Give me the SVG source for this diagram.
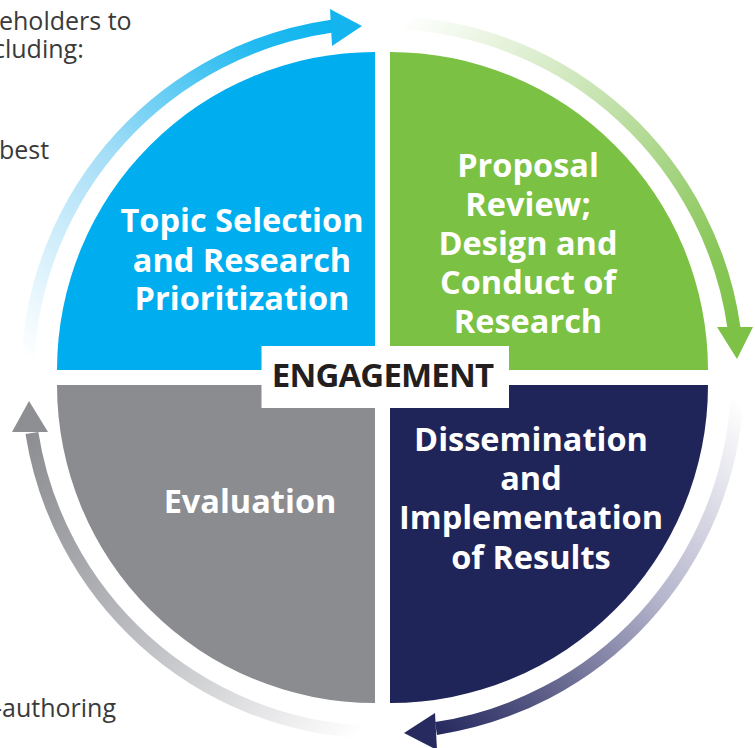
<svg xmlns="http://www.w3.org/2000/svg" width="755" height="748" viewBox="0 0 755 748">
<defs>
<style>
.qt{font-family:"Open Sans","Liberation Sans",sans-serif;font-weight:700;font-size:32.5px;fill:#ffffff;text-anchor:middle}
.side{font-family:"Open Sans","Liberation Sans",sans-serif;font-size:25px;fill:#3a3a3a}
.eng{font-family:"Open Sans","Liberation Sans",sans-serif;font-weight:700;font-size:33px;letter-spacing:-0.85px;fill:#231f20;text-anchor:middle}
.shaft{fill:none;stroke-width:13}
</style>
<linearGradient id="gBlue" gradientUnits="userSpaceOnUse" x1="28" y1="359" x2="332" y2="26">
<stop offset="0" stop-color="#ffffff"/>
<stop offset="0.45" stop-color="#a6def7"/>
<stop offset="0.85" stop-color="#22baf0"/>
<stop offset="1" stop-color="#0fb4ee"/>
</linearGradient>
<linearGradient id="gGreen" gradientUnits="userSpaceOnUse" x1="403" y1="23" x2="734" y2="328">
<stop offset="0" stop-color="#ffffff"/>
<stop offset="0.45" stop-color="#c4e2ad"/>
<stop offset="0.85" stop-color="#8ac75a"/>
<stop offset="1" stop-color="#7dc247"/>
</linearGradient>
<linearGradient id="gNavy" gradientUnits="userSpaceOnUse" x1="737" y1="400" x2="436" y2="729">
<stop offset="0" stop-color="#ffffff"/>
<stop offset="0.45" stop-color="#b4b4cc"/>
<stop offset="0.85" stop-color="#4a4c7a"/>
<stop offset="1" stop-color="#262a5e"/>
</linearGradient>
<linearGradient id="gGray" gradientUnits="userSpaceOnUse" x1="362" y1="732" x2="32" y2="433">
<stop offset="0" stop-color="#ffffff"/>
<stop offset="0.45" stop-color="#c4c5c8"/>
<stop offset="0.85" stop-color="#9a9b9f"/>
<stop offset="1" stop-color="#8e8f93"/>
</linearGradient>
</defs>
<rect width="755" height="748" fill="#ffffff"/>

<g id="side-text">
<text class="side" x="-1" y="30">eholders to</text>
<text class="side" x="-7" y="58">cluding:</text>
<text class="side" x="-1" y="159">best</text>
<text class="side" x="-6" y="717">-authoring</text>
</g>

<g id="connectors">
<path class="shaft" stroke="url(#gBlue)" d="M28,359 A355,355 0 0 1 332,26.1"/>
<polygon points="330,9 332,46 362,26" fill="#14b5ee"/>
<path class="shaft" stroke="url(#gGreen)" d="M403,23.1 A355,355 0 0 1 734,328"/>
<polygon points="717,327 753,327 737,359" fill="#7dc247"/>
<path class="shaft" stroke="url(#gNavy)" d="M736.8,400 A355,355 0 0 1 436,728.5"/>
<polygon points="435,713 437,750 404,733" fill="#262a5e"/>
<path class="shaft" stroke="url(#gGray)" d="M362,731.9 A355,355 0 0 1 31.9,433"/>
<polygon points="12,432 48,432 29,401" fill="#8e8f93"/>
</g>

<g id="topic-selection">
<path d="M375,370 L57,370 A318,318 0 0 1 375,52 Z" fill="#00adee"/>
<text class="qt" x="242" y="232">Topic Selection</text>
<text class="qt" x="242" y="271.5">and Research</text>
<text class="qt" x="242" y="310">Prioritization</text>
</g>

<g id="proposal-review">
<path d="M390,370 L390,52 A318,318 0 0 1 708,370 Z" fill="#7bc143"/>
<text class="qt" x="528" y="177">Proposal</text>
<text class="qt" x="528" y="216">Review;</text>
<text class="qt" x="528" y="255">Design and</text>
<text class="qt" x="528" y="294">Conduct of</text>
<text class="qt" x="528" y="333">Research</text>
</g>

<g id="dissemination">
<path d="M390,385 L708,385 A318,318 0 0 1 390,703 Z" fill="#1f2459"/>
<text class="qt" x="531" y="451">Dissemination</text>
<text class="qt" x="531" y="490">and</text>
<text class="qt" x="531" y="529">Implementation</text>
<text class="qt" x="531" y="569">of Results</text>
</g>

<g id="evaluation">
<path d="M375,385 L375,703 A318,318 0 0 1 57,385 Z" fill="#8b8c90"/>
<text class="qt" x="250" y="513">Evaluation</text>
</g>

<g id="engagement">
<rect x="261.5" y="346" width="247.5" height="62" fill="#ffffff"/>
<text class="eng" x="382.5" y="387">ENGAGEMENT</text>
</g>
</svg>
